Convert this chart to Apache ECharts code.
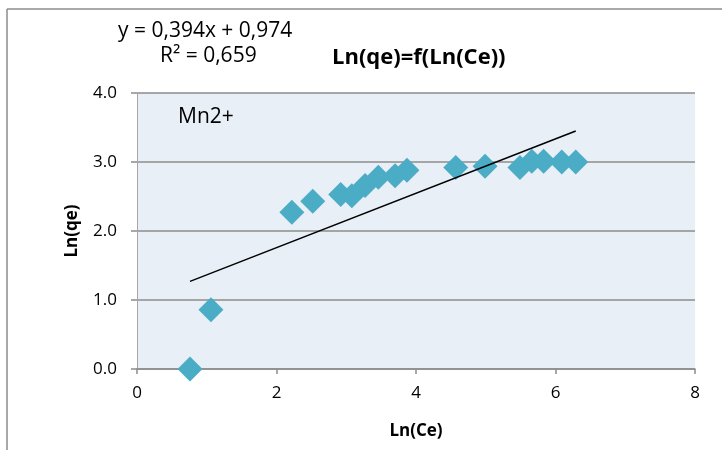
<!DOCTYPE html>
<html>
<head>
<meta charset="utf-8">
<script src="https://cdn.jsdelivr.net/npm/echarts@6/dist/echarts.min.js"></script>
<style>
html,body{margin:0;padding:0;background:#fff;}
#chart{width:722px;height:450px;}
</style>
</head>
<body>
<div id="chart"></div>
<script>
// Ln(Ce) / Ln(qe) points
var lnCe = [0.76, 1.06, 2.22, 2.52, 2.92, 3.08, 3.27, 3.46, 3.70, 3.87, 4.57, 4.99, 5.49, 5.66, 5.83, 6.09, 6.29];
var lnQe = [0.00, 0.86, 2.27, 2.43, 2.53, 2.51, 2.66, 2.78, 2.80, 2.88, 2.92, 2.94, 2.92, 3.01, 3.01, 3.00, 3.00];
// linear trendline ends
var trendX = [0.76, 6.29];
var trendY = [1.27, 3.45];
var eqText = "y = 0,394x + 0,974";
var r2Text = "R² = 0,659";
var seriesName = "Mn2+";

var pts = [];
for (var i = 0; i < lnCe.length; i++) { pts.push([lnCe[i], lnQe[i]]); }
var trend = [];
for (var j = 0; j < trendX.length; j++) { trend.push([trendX[j], trendY[j]]); }

var font = "'Open Sans', sans-serif";
var chart = echarts.init(document.getElementById('chart'));
chart.setOption({
	animation: false,
	backgroundColor: '#fff',
	textStyle: { fontFamily: font },
	title: {
		text: "Ln(qe)=f(Ln(Ce))",
		left: 327, top: 42,
		textStyle: { fontSize: 22, fontWeight: 'bold', color: '#000', fontFamily: font }
	},
	grid: { left: 137, right: 27, top: 93, bottom: 81, show: true, backgroundColor: '#E8EFF6', borderWidth: 0 },
	xAxis: {
		type: 'value', min: 0, max: 8, interval: 2,
		name: 'Ln(Ce)', nameLocation: 'middle', nameGap: 54,
		nameTextStyle: { fontSize: 17, fontWeight: 'bold', color: '#000', fontFamily: font },
		axisLine: { show: true, lineStyle: { color: '#8c8c8c', width: 1.5 } },
		axisTick: { show: true, length: 5, inside: false, lineStyle: { color: '#8c8c8c', width: 1.5 } },
		axisLabel: { fontSize: 17, color: '#000', margin: 16, fontFamily: font },
		splitLine: { show: false }
	},
	yAxis: {
		type: 'value', min: 0, max: 4, interval: 1,
		name: 'Ln(qe)', nameLocation: 'middle', nameGap: 56, nameRotate: 90,
		nameTextStyle: { fontSize: 17, fontWeight: 'bold', color: '#000', fontFamily: font },
		axisLine: { show: true, lineStyle: { color: '#a6a6a6', width: 1 } },
		axisTick: { show: true, length: 6, lineStyle: { color: '#8c8c8c', width: 1.5 } },
		axisLabel: { fontSize: 17, color: '#000', margin: 20, fontFamily: font,
			formatter: function(v){ return v.toFixed(1); } },
		splitLine: { show: true, lineStyle: { color: '#8c8c8c', width: 1.5 } }
	},
	series: [
		{
			name: seriesName, type: 'scatter', data: pts,
			symbol: 'diamond', symbolSize: 25,
			itemStyle: { color: '#4BACC6', opacity: 1 }
		},
		{
			name: 'trend', type: 'line', data: trend,
			symbol: 'none', z: 3,
			lineStyle: { color: '#000', width: 1.5 }
		}
	],
	graphic: [
		{ type: 'line', shape: { x1: 7, y1: 9, x2: 722, y2: 9 }, style: { stroke: '#8c8c8c', lineWidth: 1.5 } },
		{ type: 'line', shape: { x1: 7, y1: 9, x2: 7, y2: 450 }, style: { stroke: '#8c8c8c', lineWidth: 1.5 } },
		{ type: 'text', x: 118, y: 31, style: { text: eqText, fontSize: 21, fill: '#000', fontFamily: font, verticalAlign: 'middle' } },
		{ type: 'text', x: 160, y: 56, style: { text: r2Text, fontSize: 21, fill: '#000', fontFamily: font, verticalAlign: 'middle' } },
		{ type: 'text', x: 178, y: 117, style: { text: seriesName, fontSize: 21, fill: '#000', fontFamily: font, verticalAlign: 'middle' } }
	]
});
</script>
</body>
</html>
